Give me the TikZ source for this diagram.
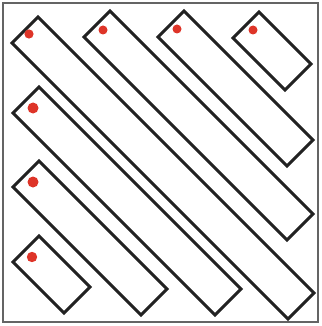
\documentclass[tikz,border=0pt]{standalone}
\definecolor{dotred}{RGB}{222,52,40}
\definecolor{framegray}{RGB}{100,100,100}
\definecolor{barline}{RGB}{34,34,34}
\tikzset{
  bar/.style={draw=barline, line width=2.9pt, line join=miter},
  reddot/.style={fill=dotred},
  frame/.style={draw=framegray, line width=1.8pt}
}
% #1,#2 = left corner, #3 = diagonal length, #4 = dot radius, #5,#6 = dot offset
\newcommand{\diagbar}[6]{%
  \draw[bar] (#1,#2) -- ++(26,-26) -- ++(#3,#3) -- ++(-26,26) -- cycle;
  \fill[reddot] ($(#1,#2)+(#5,#6)$) circle (#4);
}
\usetikzlibrary{calc}
\begin{document}
\begin{tikzpicture}[x=1pt,y=-1pt]
\useasboundingbox (0,0) rectangle (321,326);
\draw[frame] (3,3) rectangle (318,322);
\diagbar{12}{43}{276}{4.6}{17}{-9}
\diagbar{84}{37}{203}{4.5}{19}{-7}
\diagbar{158}{37}{129}{4.5}{19}{-8}
\diagbar{233}{38}{52}{4.5}{20}{-8}
\diagbar{13}{113}{202}{5.5}{20}{-5}
\diagbar{13}{187}{128}{5.5}{20}{-5}
\diagbar{13}{262}{51}{5.2}{19}{-5}
\end{tikzpicture}
\end{document}
